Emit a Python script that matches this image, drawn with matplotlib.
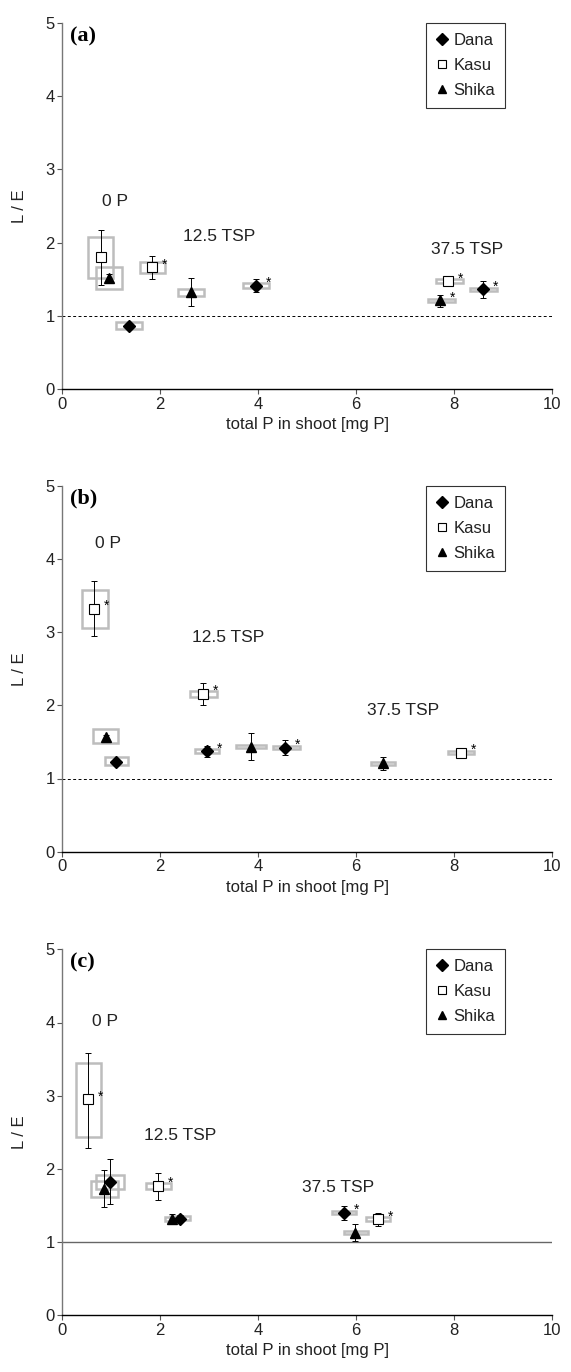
import matplotlib
matplotlib.use("Agg")
import matplotlib.pyplot as plt
from matplotlib.patches import Rectangle
from matplotlib.lines import Line2D

plt.rcParams['font.family'] = ['Liberation Sans', 'DejaVu Sans']

# ---------------- data ----------------
series_names = ['Dana', 'Kasu', 'Shika']
x_ticks = [0, 2, 4, 6, 8, 10]
y_ticks = [0, 1, 2, 3, 4, 5]
panel_letters = ['(a)', '(b)', '(c)']
group_labels = ['0 P', '12.5 TSP', '37.5 TSP']

# Panel (a)
a_series = ['Kasu', 'Shika', 'Dana', 'Kasu', 'Shika', 'Dana', 'Kasu', 'Shika', 'Dana']
a_x = [0.79, 0.96, 1.37, 1.83, 2.63, 3.96, 7.88, 7.72, 8.60]
a_y = [1.80, 1.51, 0.86, 1.66, 1.32, 1.41, 1.47, 1.21, 1.36]
a_err_lo = [1.42, 1.45, 0.83, 1.50, 1.13, 1.33, 1.43, 1.12, 1.25]
a_err_hi = [2.17, 1.57, 0.89, 1.82, 1.51, 1.50, 1.51, 1.29, 1.48]
a_box_x0 = [0.52, 0.69, 1.10, 1.58, 2.36, 3.68, 7.64, 7.47, 8.32]
a_box_x1 = [1.03, 1.22, 1.62, 2.09, 2.90, 4.23, 8.18, 8.02, 8.87]
a_box_y0 = [1.51, 1.36, 0.82, 1.58, 1.27, 1.38, 1.45, 1.19, 1.34]
a_box_y1 = [2.08, 1.66, 0.91, 1.73, 1.37, 1.45, 1.50, 1.23, 1.38]
a_star = [False, False, False, True, False, True, True, True, True]
a_label_x = [0.81, 2.47, 7.53]
a_label_y = [2.56, 2.08, 1.90]

# Panel (b)
b_series = ['Kasu', 'Shika', 'Dana', 'Kasu', 'Dana', 'Shika', 'Dana', 'Shika', 'Kasu']
b_x = [0.65, 0.89, 1.10, 2.87, 2.95, 3.85, 4.55, 6.55, 8.15]
b_y = [3.32, 1.57, 1.23, 2.16, 1.37, 1.43, 1.42, 1.21, 1.35]
b_err_lo = [2.94, 1.54, 1.20, 2.00, 1.29, 1.25, 1.32, 1.12, 1.30]
b_err_hi = [3.70, 1.60, 1.26, 2.31, 1.45, 1.62, 1.52, 1.30, 1.40]
b_box_x0 = [0.41, 0.62, 0.88, 2.60, 2.72, 3.55, 4.30, 6.30, 7.88]
b_box_x1 = [0.93, 1.14, 1.35, 3.15, 3.20, 4.15, 4.85, 6.80, 8.40]
b_box_y0 = [3.06, 1.48, 1.18, 2.11, 1.35, 1.41, 1.40, 1.19, 1.33]
b_box_y1 = [3.58, 1.67, 1.30, 2.20, 1.40, 1.46, 1.45, 1.23, 1.38]
b_star = [True, False, False, True, True, False, True, False, True]
b_label_x = [0.67, 2.64, 6.23]
b_label_y = [4.21, 2.93, 1.93]

# Panel (c)
c_series = ['Kasu', 'Shika', 'Dana', 'Kasu', 'Shika', 'Dana', 'Dana', 'Shika', 'Kasu']
c_x = [0.52, 0.86, 0.98, 1.95, 2.25, 2.40, 5.75, 5.98, 6.45]
c_y = [2.95, 1.72, 1.82, 1.77, 1.31, 1.32, 1.40, 1.13, 1.31]
c_err_lo = [2.29, 1.48, 1.52, 1.57, 1.25, 1.27, 1.30, 1.02, 1.22]
c_err_hi = [3.59, 1.98, 2.13, 1.95, 1.38, 1.37, 1.50, 1.25, 1.40]
c_box_x0 = [0.27, 0.59, 0.69, 1.70, 2.10, 2.20, 5.50, 5.75, 6.20]
c_box_x1 = [0.79, 1.14, 1.25, 2.21, 2.45, 2.60, 6.00, 6.25, 6.70]
c_box_y0 = [2.44, 1.62, 1.72, 1.73, 1.29, 1.30, 1.38, 1.11, 1.29]
c_box_y1 = [3.44, 1.84, 1.92, 1.81, 1.34, 1.35, 1.43, 1.15, 1.34]
c_star = [True, False, False, True, False, False, True, False, True]
c_label_x = [0.60, 1.66, 4.90]
c_label_y = [4.01, 2.46, 1.75]

# ---------------- style ----------------
marker_style = {
    'Dana': dict(marker='D', mfc='black', mec='black', ms=6),
    'Kasu': dict(marker='s', mfc='white', mec='black', ms=6.5, mew=0.8),
    'Shika': dict(marker='^', mfc='black', mec='black', ms=7),
}
box_color = '#bdbdbd'

fig = plt.figure(figsize=(5.71, 13.72), dpi=100)
left = 62.3 / 571
width = (552 - 62.3) / 571
height = 366 / 1372
bottoms = [1 - 389 / 1372, 1 - 851.7 / 1372, 1 - 1315.3 / 1372]

panels = [
    (a_series, a_x, a_y, a_err_lo, a_err_hi, a_box_x0, a_box_x1, a_box_y0, a_box_y1, a_star, a_label_x, a_label_y),
    (b_series, b_x, b_y, b_err_lo, b_err_hi, b_box_x0, b_box_x1, b_box_y0, b_box_y1, b_star, b_label_x, b_label_y),
    (c_series, c_x, c_y, c_err_lo, c_err_hi, c_box_x0, c_box_x1, c_box_y0, c_box_y1, c_star, c_label_x, c_label_y),
]

for pi, (ser, xs, ys, elo, ehi, bx0, bx1, by0, by1, stars, lx, ly) in enumerate(panels):
    ax = fig.add_axes([left, bottoms[pi], width, height])
    ax.set_xlim(0, 10)
    ax.set_ylim(0, 5)
    ax.set_xticks(x_ticks)
    ax.set_yticks(y_ticks)
    ax.tick_params(axis='both', labelsize=12, length=3.5, width=0.8, colors='#555555',
                   labelcolor='#222222', pad=2)
    for s in ['top', 'right']:
        ax.spines[s].set_visible(False)
    ax.spines['left'].set_color('#777777')
    ax.spines['bottom'].set_color('black')
    ax.spines['left'].set_linewidth(1.0)
    ax.spines['bottom'].set_linewidth(1.0)
    ax.set_xlabel('total P in shoot [mg P]', fontsize=12, labelpad=4, color='#222222')
    ax.set_ylabel('L / E', fontsize=12, labelpad=13, color='#222222')

    if pi < 2:
        ax.axhline(1, color='black', lw=0.7, ls=(0, (3, 2.5)), zorder=1)
    else:
        ax.axhline(1, color='#666666', lw=1.0, zorder=1)

    for i in range(len(xs)):
        ax.add_patch(Rectangle((bx0[i], by0[i]), bx1[i] - bx0[i], by1[i] - by0[i],
                               fill=False, edgecolor=box_color, lw=1.8, zorder=2))
    for i in range(len(xs)):
        st = marker_style[ser[i]]
        ax.errorbar([xs[i]], [ys[i]], yerr=[[ys[i] - elo[i]], [ehi[i] - ys[i]]],
                    fmt='none', ecolor='black', elinewidth=0.7, capsize=2.4, capthick=0.7,
                    zorder=3)
        ax.plot([xs[i]], [ys[i]], linestyle='none', zorder=4, **st)
        if stars[i]:
            ax.text(xs[i] + 0.2, ys[i] + 0.04, '*', fontsize=10, ha='left', va='center', zorder=5)

    for k in range(3):
        ax.text(lx[k], ly[k], group_labels[k], fontsize=12.5, ha='left', va='center',
                color='#222222')

    ax.text(0.16, 4.82, panel_letters[pi], fontsize=16, fontweight='bold',
            family='Liberation Serif', ha='left', va='center')

    handles = [Line2D([], [], linestyle='none', **marker_style[n]) for n in series_names]
    for h in handles:
        h.set_markersize(6)
    leg = ax.legend(handles, series_names, loc='upper right', bbox_to_anchor=(0.905, 1.0),
                    borderaxespad=0, frameon=True, fancybox=False, fontsize=12,
                    handlelength=0.7, handletextpad=0.35, borderpad=0.6, labelspacing=0.6)
    leg.get_frame().set_edgecolor('black')
    leg.get_frame().set_linewidth(0.8)
    for t in leg.get_texts():
        t.set_color('#222222')

fig.savefig('out.png', dpi=100)
